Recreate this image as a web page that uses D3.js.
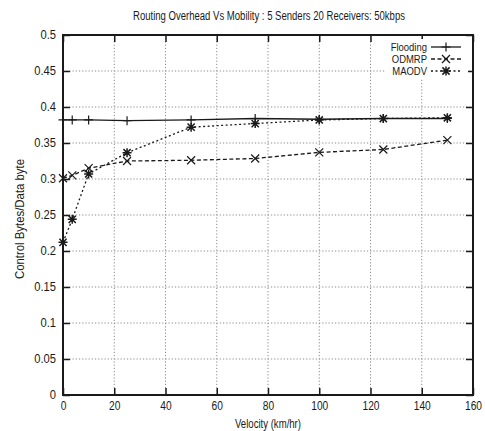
<!DOCTYPE html>
<html><head><meta charset="utf-8">
<script src="https://cdn.jsdelivr.net/npm/d3@7"></script>
<style>body{margin:0;background:#fff}svg{display:block;font-family:"Liberation Sans",Arial,sans-serif}</style>
</head><body><svg id="c" width="485" height="431"></svg>
<script>
const velocity = [0, 3.6, 10, 25, 50, 75, 100, 125, 150];
const flooding = [0.382, 0.382, 0.382, 0.381, 0.382, 0.384, 0.383, 0.384, 0.384];
const odmrp    = [0.301, 0.305, 0.315, 0.325, 0.326, 0.3285, 0.337, 0.341, 0.354];
const maodv    = [0.212, 0.244, 0.307, 0.3365, 0.372, 0.377, 0.382, 0.384, 0.385];
const seriesNames = ["Flooding", "ODMRP", "MAODV"];
const xTicks = [0, 20, 40, 60, 80, 100, 120, 140, 160];
const yTicks = [0, 0.05, 0.1, 0.15, 0.2, 0.25, 0.3, 0.35, 0.4, 0.45, 0.5];
const yTickLabels = ["0","0.05","0.1","0.15","0.2","0.25","0.3","0.35","0.4","0.45","0.5"];
const title = "Routing Overhead Vs Mobility : 5 Senders 20 Receivers: 50kbps";
const xTitle = "Velocity (km/hr)";
const yTitle = "Control Bytes/Data byte";

const svg = d3.select("#c");
const L = 63, R = 473, T = 35, B = 395;
const x = d3.scaleLinear().domain([0, 160]).range([L, R]);
const y = d3.scaleLinear().domain([0, 0.5]).range([B, T]);
const ink = "#1a1a1a";

function condense(sel, f) {
  sel.each(function(){ const w = this.getComputedTextLength(); this.setAttribute("textLength", w*f); this.setAttribute("lengthAdjust","spacingAndGlyphs"); });
}

// grid
const grid = svg.append("g").attr("stroke", "#8a8a8a").attr("stroke-width", 1).attr("stroke-dasharray", "1.2,2");
grid.selectAll(".gx").data(xTicks.slice(1, -1)).join("line")
  .attr("x1", d => x(d)).attr("x2", d => x(d)).attr("y1", T).attr("y2", B);
grid.selectAll(".gy").data(yTicks.slice(1, -1)).join("line")
  .attr("x1", L).attr("x2", R).attr("y1", d => y(d)).attr("y2", d => y(d));

// axes (inside ticks, mirrored)
const tl = 7;
const xb = svg.append("g").attr("transform", `translate(0,${B})`)
  .call(d3.axisBottom(x).tickValues(xTicks).tickSize(-tl).tickPadding(6).tickFormat(d3.format("d")));
const xt = svg.append("g").attr("transform", `translate(0,${T})`)
  .call(d3.axisTop(x).tickValues(xTicks).tickSize(-tl).tickFormat(""));
const yl = svg.append("g").attr("transform", `translate(${L},0)`)
  .call(d3.axisLeft(y).tickValues(yTicks).tickSize(-tl).tickPadding(7).tickFormat((d, i) => yTickLabels[i]));
const yr = svg.append("g").attr("transform", `translate(${R},0)`)
  .call(d3.axisRight(y).tickValues(yTicks).tickSize(-tl).tickFormat(""));
[xb, xt, yl, yr].forEach(g => {
  g.select(".domain").remove();
  g.selectAll(".tick line").attr("stroke", ink).attr("stroke-width", 1.5);
  g.selectAll("text").attr("fill", ink).attr("font-size", 12).attr("font-family", "Liberation Sans, Arial, sans-serif");
});
condense(xb.selectAll("text"), 0.85);
condense(yl.selectAll("text"), 0.93);

// legend mask
svg.append("rect").attr("x", 386).attr("y", 39).attr("width", 82).attr("height", 39).attr("fill", "#fff");

// series
const styles = [
  {data: flooding, dash: null, marker: "plus"},
  {data: odmrp, dash: "4,2.5", marker: "cross"},
  {data: maodv, dash: "2,2.5", marker: "star"}
];
function drawMarker(g, kind, cx, cy) {
  const s = 4.5;
  const p = [];
  if (kind === "plus" || kind === "star") p.push(`M${cx-s},${cy}H${cx+s}M${cx},${cy-s}V${cy+s}`);
  if (kind === "cross" || kind === "star") { const k = kind === "star" ? 3.6 : 4; p.push(`M${cx-k},${cy-k}L${cx+k},${cy+k}M${cx-k},${cy+k}L${cx+k},${cy-k}`); }
  g.append("path").attr("d", p.join("")).attr("stroke", ink).attr("stroke-width", kind === "star" ? 1.5 : 1.2).attr("fill", "none");
}
const line = d3.line().x(d => x(d[0])).y(d => y(d[1]));
styles.forEach(st => {
  const pts = velocity.map((v, i) => [v, st.data[i]]);
  svg.append("path").attr("d", line(pts)).attr("fill", "none").attr("stroke", ink)
    .attr("stroke-width", 1.3).attr("stroke-dasharray", st.dash);
  const g = svg.append("g");
  pts.forEach(p => drawMarker(g, st.marker, x(p[0]), y(p[1])));
});

// legend
const lg = svg.append("g");
seriesNames.forEach((n, i) => {
  const cy = 47 + i * 12;
  const t = lg.append("text").attr("x", 427).attr("y", cy + 3.8).attr("text-anchor", "end")
    .attr("font-size", 10.5).attr("fill", ink).text(n);
  condense(t, 0.9);
  lg.append("line").attr("x1", 431).attr("x2", 461).attr("y1", cy).attr("y2", cy)
    .attr("stroke", ink).attr("stroke-width", 1.3).attr("stroke-dasharray", styles[i].dash);
  drawMarker(lg, styles[i].marker, 446, cy);
});

// border
svg.append("rect").attr("x", L).attr("y", T).attr("width", R - L).attr("height", B - T)
  .attr("fill", "none").attr("stroke", ink).attr("stroke-width", 2);

// titles
const tt = svg.append("text").attr("x", 269).attr("y", 20).attr("text-anchor", "middle")
  .attr("font-size", 12).attr("fill", ink).text(title);
tt.attr("textLength", 272).attr("lengthAdjust", "spacingAndGlyphs");
svg.append("text").attr("x", 268).attr("y", 428).attr("text-anchor", "middle")
  .attr("font-size", 12).attr("fill", ink).attr("textLength", 66).attr("lengthAdjust", "spacingAndGlyphs").text(xTitle);
svg.append("text").attr("transform", "translate(24,219) rotate(-90)").attr("text-anchor", "middle")
  .attr("font-size", 12).attr("fill", ink).attr("textLength", 120).attr("lengthAdjust", "spacingAndGlyphs").text(yTitle);
</script></body></html>
